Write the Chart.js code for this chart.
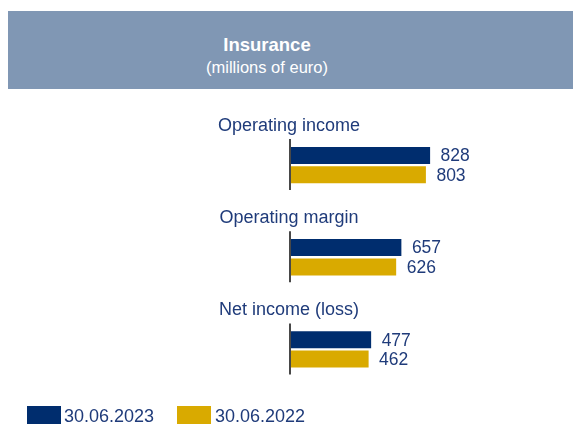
<!DOCTYPE html>
<html>
<head>
<meta charset="utf-8">
<script src="https://cdn.jsdelivr.net/npm/chart.js@4/dist/chart.umd.min.js"></script>
<style>
  body { margin: 0; background: #fff; font-family: "Liberation Sans", Arial, sans-serif; }
  #wrap { position: relative; width: 573px; height: 427px; overflow: hidden; }
  #chart { position: absolute; left: 0; top: 0; }
  #header { position: absolute; left: 8px; top: 11px; width: 565px; height: 78px; background: #8097b4; color: #fff; }
  #header .t { position: absolute; left: 0; width: 518px; text-align: center; }
  #title { top: 25.3px; font-size: 18.5px; font-weight: bold; line-height: 18.5px; }
  #subtitle { top: 47.7px; font-size: 16.5px; line-height: 16.5px; }
  #legend { position: absolute; left: 0; top: 0; }
  .lg-box { position: absolute; top: 406px; width: 34px; height: 18px; }
  .lg-text { position: absolute; top: 407px; font-size: 18px; line-height: 18px; color: #1f3b7a; white-space: nowrap; }
</style>
</head>
<body>
<div id="wrap">
  <canvas id="chart" width="573" height="427"></canvas>
  <div id="header">
    <div class="t" id="title">Insurance</div>
    <div class="t" id="subtitle">(millions of euro)</div>
  </div>
  <div id="legend"></div>
</div>
<script>
const categories = ['Operating income', 'Operating margin', 'Net income (loss)']
const seriesLabels = ['30.06.2023', '30.06.2022']
const values2023 = [828, 657, 477]
const values2022 = [803, 626, 462]
const seriesColors = ['#002d6e', '#d9aa00']
const textColor = '#1f3b7a'
const fontFamily = '"Liberation Sans", Arial, sans-serif'

// legend (html so the box/text gap matches)
let legendX = [[27, 64], [177, 215]]
let legend = document.getElementById('legend')
seriesLabels.forEach((label, i) => {
  let box = document.createElement('div')
  box.className = 'lg-box'
  box.style.left = legendX[i][0] + 'px'
  box.style.background = seriesColors[i]
  legend.appendChild(box)
  let txt = document.createElement('div')
  txt.className = 'lg-text'
  txt.style.left = legendX[i][1] + 'px'
  txt.textContent = label
  legend.appendChild(txt)
})

// group titles, axis segments and value labels
const groupDecor = {
  id: 'groupDecor',
  afterDatasetsDraw(chart) {
    let ctx = chart.ctx
    let xs = chart.scales.x
    let ys = chart.scales.y
    let x0 = xs.getPixelForValue(0)
    ctx.save()
    categories.forEach((cat, i) => {
      let yc = ys.getPixelForValue(i)
      ctx.strokeStyle = '#1a1a1a'
      ctx.lineWidth = 1.6
      ctx.beginPath()
      ctx.moveTo(x0 - 1, yc - 26)
      ctx.lineTo(x0 - 1, yc + 25)
      ctx.stroke()
      ctx.fillStyle = textColor
      ctx.font = '18px ' + fontFamily
      ctx.textAlign = 'center'
      ctx.textBaseline = 'alphabetic'
      ctx.fillText(cat, x0 - 2, yc - 34)
    })
    ctx.font = '17.5px ' + fontFamily
    ctx.textAlign = 'left'
    ctx.textBaseline = 'middle'
    ctx.fillStyle = textColor
    chart.data.datasets.forEach((ds, di) => {
      chart.getDatasetMeta(di).data.forEach((bar, i) => {
        ctx.fillText(String(ds.data[i]), bar.x + 10.5, bar.y + 1)
      })
    })
    ctx.restore()
  }
}

new Chart(document.getElementById('chart'), {
  type: 'bar',
  data: {
    labels: categories,
    datasets: [
      { label: seriesLabels[0], data: values2023, backgroundColor: seriesColors[0] },
      { label: seriesLabels[1], data: values2022, backgroundColor: seriesColors[1] }
    ]
  },
  options: {
    indexAxis: 'y',
    responsive: false,
    animation: false,
    events: [],
    layout: { padding: { left: 291, right: 114, top: 119, bottom: 31.5 } },
    datasets: { bar: { categoryPercentage: 0.42, barPercentage: 0.88 } },
    scales: {
      x: { display: false, min: 0, max: 1000 },
      y: { display: false }
    },
    plugins: {
      legend: { display: false },
      title: { display: false },
      tooltip: { enabled: false }
    }
  },
  plugins: [groupDecor]
})
</script>
</body>
</html>
